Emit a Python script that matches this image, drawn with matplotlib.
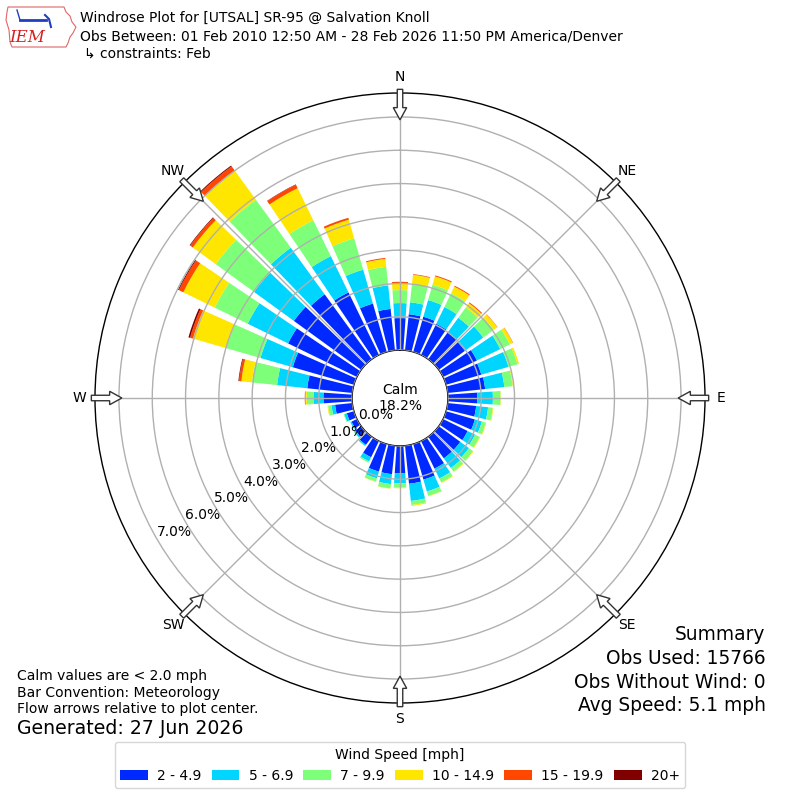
import numpy as np
import matplotlib
matplotlib.use("Agg")
from matplotlib import pyplot as plt
from matplotlib.patches import FancyArrow, Patch, Polygon

# wind direction bins (deg) and frequency (%) of each speed bin
directions = [0, 10, 20, 30, 40, 50, 60, 70, 80, 90, 100, 110,
              120, 130, 140, 150, 160, 170, 180, 190, 200, 210, 220, 230,
              240, 250, 260, 270, 280, 290, 300, 310, 320, 330, 340, 350]
spd_2_5 = [0.96, 1.09, 1.10, 1.04, 1.00, 0.97, 1.13, 1.10, 1.13, 0.88, 0.86, 0.90,
           0.82, 0.80, 0.80, 0.92, 1.11, 1.15, 0.82, 0.86, 0.86, 0.54, 0.30, 0.22,
           0.18, 0.22, 0.52, 0.86, 1.36, 1.91, 2.30, 2.50, 2.41, 2.09, 1.51, 1.25]
spd_5_7 = [0.45, 0.36, 0.52, 0.56, 0.54, 0.68, 0.78, 0.85, 0.58, 0.47, 0.36, 0.22,
           0.25, 0.32, 0.36, 0.33, 0.37, 0.52, 0.30, 0.30, 0.21, 0.14, 0.04, 0.05,
           0.04, 0.08, 0.11, 0.30, 0.91, 1.01, 1.35, 1.48, 1.73, 1.21, 1.06, 0.71]
spd_7_10 = [0.39, 0.55, 0.48, 0.46, 0.38, 0.39, 0.32, 0.28, 0.25, 0.23, 0.14, 0.12,
            0.15, 0.15, 0.13, 0.13, 0.14, 0.12, 0.13, 0.13, 0.10, 0.04, 0.01, 0.01,
            0.00, 0.02, 0.10, 0.20, 0.76, 1.07, 1.10, 1.42, 1.78, 1.20, 0.98, 0.56]
spd_10_15 = [0.20, 0.28, 0.26, 0.22, 0.16, 0.13, 0.10, 0.05, 0.02, 0.01, 0.02, 0.02,
             0.02, 0.02, 0.02, 0.02, 0.01, 0.03, 0.02, 0.01, 0.01, 0.00, 0.00, 0.00,
             0.00, 0.00, 0.02, 0.04, 0.32, 1.04, 1.05, 0.85, 1.08, 1.07, 0.58, 0.24]
spd_15_20 = [0.05, 0.02, 0.03, 0.03, 0.03, 0.01, 0.01, 0.00, 0.00, 0.00, 0.00, 0.00,
             0.00, 0.00, 0.00, 0.00, 0.00, 0.00, 0.00, 0.00, 0.00, 0.00, 0.00, 0.00,
             0.00, 0.00, 0.00, 0.02, 0.07, 0.09, 0.15, 0.10, 0.16, 0.12, 0.06, 0.03]
spd_20 = [0.00, 0.00, 0.00, 0.00, 0.00, 0.00, 0.00, 0.00, 0.00, 0.00, 0.00, 0.00,
          0.00, 0.00, 0.00, 0.00, 0.00, 0.00, 0.00, 0.00, 0.00, 0.00, 0.00, 0.00,
          0.00, 0.00, 0.00, 0.00, 0.02, 0.05, 0.03, 0.02, 0.03, 0.01, 0.00, 0.00]
speed_labels = ["2 - 4.9", "5 - 6.9", "7 - 9.9", "10 - 14.9", "15 - 19.9", "20+"]
calm_pct = 18.2
rticks = [0, 1, 2, 3, 4, 5, 6, 7]
compass = ["N", "NE", "E", "SE", "S", "SW", "W", "NW"]

title_lines = [
    "Windrose Plot for [UTSAL] SR-95 @ Salvation Knoll",
    "Obs Between: 01 Feb 2010 12:50 AM - 28 Feb 2026 11:50 PM America/Denver",
    "\u21b3 constraints: Feb",
]
notes = ["Calm values are < 2.0 mph", "Bar Convention: Meteorology",
         "Flow arrows relative to plot center."]
summary = ["Summary", "Obs Used: 15766", "Obs Without Wind: 0", "Avg Speed: 5.1 mph"]

bins = [spd_2_5, spd_5_7, spd_7_10, spd_10_15, spd_15_20, spd_20]
colors = plt.get_cmap("jet")(np.linspace(0, 1, 7)[1:])

fig = plt.figure(figsize=(8, 8), dpi=100)
ax = fig.add_axes([0.11875, 0.12125, 0.7625, 0.7625], projection="polar")
ax.set_theta_zero_location("N")
ax.set_theta_direction(-1)

theta = np.radians(directions)
width = np.radians(10) * 0.8
base = np.zeros(len(directions))
for vals, c in zip(bins, colors):
    vals = np.array(vals)
    ax.bar(theta, vals, width=width, bottom=base, color=c, linewidth=0, zorder=1)
    base += vals

ax.set_rorigin(-1.44)
ax.set_rlim(0, 7.72)
ax.set_rticks(rticks)
ax.set_yticklabels([f"{v:.1f}%" for v in rticks], fontsize=10)
ax.set_rlabel_position(240)
ax.set_xticks(np.radians(np.arange(0, 360, 45)))
ax.set_xticklabels(compass, fontsize=10)
ax.tick_params(axis="x", pad=1)
ax.set_axisbelow(False)
ax.grid(True, color="#b0b0b0", lw=1, zorder=3)
for sp in ax.spines.values():
    sp.set_linewidth(1)

ax.text(0.5, 0.5, f"Calm\n{calm_pct:.1f}%", transform=ax.transAxes,
        ha="center", va="center", fontsize=10, zorder=5)

# flow arrows at the edge
for ang in np.radians(np.arange(0, 360, 45)):
    ux, uy = np.sin(ang), np.cos(ang)
    r0, r1 = 0.506, 0.456
    arr = FancyArrow(0.5 + r0 * ux, 0.5 + r0 * uy, (r1 - r0) * ux, (r1 - r0) * uy,
                     width=0.009, head_width=0.022, head_length=0.02,
                     length_includes_head=True, transform=ax.transAxes,
                     facecolor="white", edgecolor="#333333", lw=1, clip_on=False, zorder=6)
    ax.add_artist(arr)

# header
for i, line in enumerate(title_lines):
    fig.text(0.1 if i < 2 else 0.105, 1 - (18 + 18 * i) / 800.0, line,
             fontsize=10, va="center", ha="left")

# logo
lax = fig.add_axes([0.0, 0.935, 0.1, 0.065])
lax.set_xlim(0, 80)
lax.set_ylim(52, 0)
lax.axis("off")
iowa = [(8, 7), (64, 7), (66, 12), (70, 16), (72, 22), (76, 27), (73, 33), (70, 37),
        (68, 43), (66, 47), (12, 47), (10, 42), (9, 30), (6, 20), (7, 12)]
lax.add_patch(Polygon(iowa, closed=True, fill=False, edgecolor="#e06666", lw=0.8))
lax.plot([20, 46], [20, 20], color="#1f3fbf", lw=2)
lax.plot([45, 49, 51], [15, 19, 27], color="#1f3fbf", lw=1.5)
lax.plot([20, 17], [20, 10], color="#1f3fbf", lw=1)
lax.text(27, 38, "IEM", color="#d62020", fontsize=12, style="italic",
         family="DejaVu Serif", ha="center", va="center")

# notes
for i, line in enumerate(notes):
    fig.text(0.021, 1 - (676 + 16.5 * i) / 800.0, line, fontsize=10, va="center")
fig.text(0.021, 1 - 728 / 800.0, "Generated: 27 Jun 2026", fontsize=13.6, va="center")
for i, line in enumerate(summary):
    fig.text(0.957, 1 - (635 + 23.5 * i) / 800.0, line, fontsize=13.4,
             va="center", ha="right")

handles = [Patch(facecolor=c) for c in colors]
fig.legend(handles, speed_labels, loc="lower center", bbox_to_anchor=(0.5, 0.006),
           ncol=6, title="Wind Speed [mph]", fontsize=10, title_fontsize=10,
           columnspacing=0.75, handletextpad=0.65)

fig.savefig("out.png", dpi=100)
